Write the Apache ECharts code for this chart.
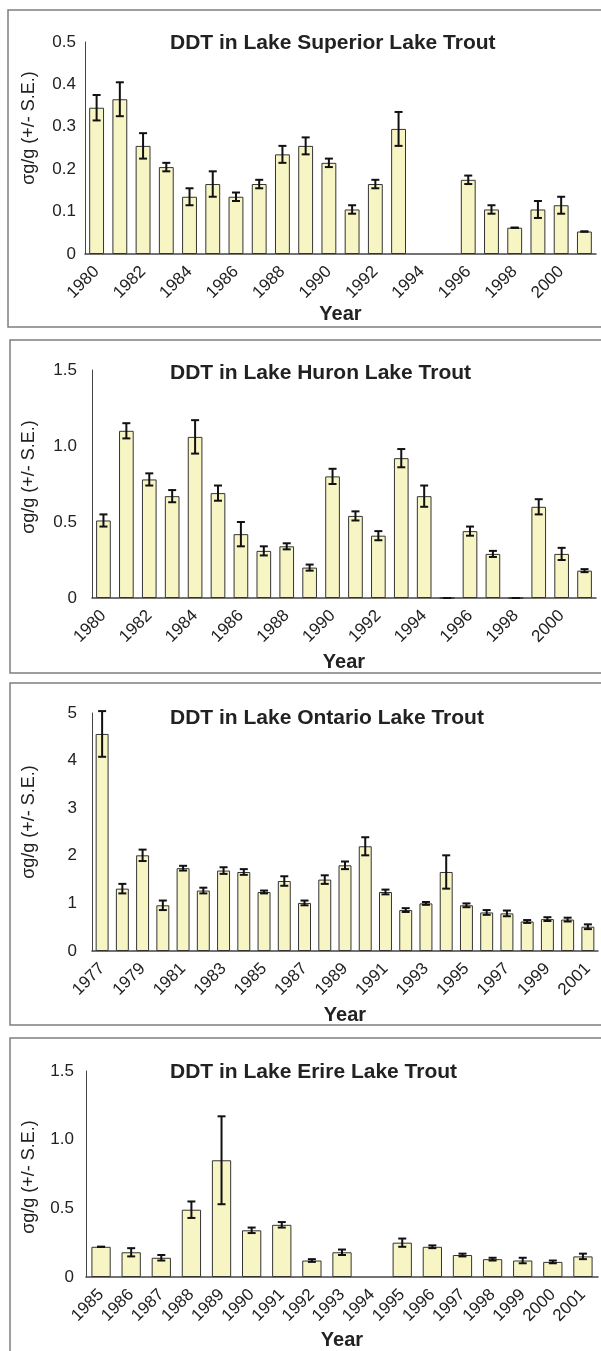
<!DOCTYPE html>
<html><head><meta charset="utf-8">
<script src="https://cdn.jsdelivr.net/npm/echarts@6/dist/echarts.min.js"></script>
<style>html,body{margin:0;padding:0;background:#fff}#c{width:601px;height:1351px}</style>
</head><body><div id="c"></div><script>
// ---- data ----
const supYears = ['1980','1981','1982','1983','1984','1985','1986','1987','1988','1989','1990','1991','1992','1993','1994','1995','1996','1997','1998','1999','2000','2001'];
const supVals  = [0.345,0.365,0.255,0.205,0.135,0.165,0.135,0.165,0.235,0.255,0.215,0.105,0.165,0.295,null,null,0.175,0.105,0.062,0.105,0.115,0.053];
const supSE    = [0.03,0.04,0.03,0.01,0.02,0.03,0.01,0.01,0.02,0.02,0.01,0.01,0.01,0.04,null,null,0.01,0.01,0,0.02,0.02,0];

const hurYears = ['1980','1981','1982','1983','1984','1985','1986','1987','1988','1989','1990','1991','1992','1993','1994','1995','1996','1997','1998','1999','2000','2001'];
const hurVals  = [0.51,1.10,0.78,0.67,1.06,0.69,0.42,0.31,0.34,0.20,0.80,0.54,0.41,0.92,0.67,0,0.44,0.29,0,0.60,0.29,0.18];
const hurSE    = [0.04,0.05,0.04,0.04,0.11,0.05,0.08,0.03,0.02,0.02,0.05,0.03,0.03,0.06,0.07,0,0.03,0.02,0,0.05,0.04,0.01];

const ontYears = ['1977','1978','1979','1980','1981','1982','1983','1984','1985','1986','1987','1988','1989','1990','1991','1992','1993','1994','1995','1996','1997','1998','1999','2000','2001'];
const ontVals  = [4.56,1.31,2.01,0.96,1.74,1.27,1.69,1.66,1.24,1.47,1.01,1.50,1.80,2.20,1.24,0.86,1.00,1.66,0.96,0.81,0.79,0.62,0.67,0.66,0.51];
const ontSE    = [0.48,0.10,0.12,0.10,0.05,0.06,0.07,0.06,0.03,0.10,0.05,0.09,0.08,0.19,0.05,0.04,0.03,0.35,0.04,0.05,0.06,0.03,0.04,0.04,0.05];

const erieYears = ['1985','1986','1987','1988','1989','1990','1991','1992','1993','1994','1995','1996','1997','1998','1999','2000','2001'];
const erieVals  = [0.22,0.18,0.14,0.49,0.85,0.34,0.38,0.12,0.18,null,0.25,0.22,0.16,0.13,0.12,0.11,0.15];
const erieSE    = [0,0.03,0.02,0.06,0.32,0.02,0.02,0.01,0.02,null,0.03,0.01,0.01,0.01,0.02,0.01,0.02];

const titles = ['DDT in Lake Superior Lake Trout','DDT in Lake Huron Lake Trout','DDT in Lake Ontario Lake Trout','DDT in Lake Erire Lake Trout'];
const yName = 'σg/g (+/- S.E.)';
const xName = 'Year';

// ---- layout ----
const panels = [
  {cats:supYears, vals:supVals, se:supSE, max:0.5, interval:0.1, dec:1, labInt:1,
   grid:{left:85, top:42, width:511, height:212}, box:{x:8, y:10, h:317}, titleY:43, nameY:128, yearGap:48, yMargin:9},
  {cats:hurYears, vals:hurVals, se:hurSE, max:1.5, interval:0.5, dec:1, labInt:1,
   grid:{left:92, top:370, width:504, height:228}, box:{x:10, y:340, h:333}, titleY:373, nameY:477, yearGap:54, yMargin:15},
  {cats:ontYears, vals:ontVals, se:ontSE, max:5, interval:1, dec:0, labInt:1,
   grid:{left:92, top:713, width:506, height:238}, box:{x:10, y:683, h:342}, titleY:718, nameY:822, yearGap:54, yMargin:15},
  {cats:erieYears, vals:erieVals, se:erieSE, max:1.5, interval:0.5, dec:1, labInt:0,
   grid:{left:86, top:1071, width:512, height:211}, box:{x:10, y:1038, h:400}, titleY:1072, nameY:1177, yearGap:53, yMargin:12}
];

const FONT = 'Liberation Sans, Arial, sans-serif';
const TXT = '#222';

function errRender(params, api) {
  const x = api.value(0), v = api.value(1), s = api.value(2);
  if (isNaN(v) || isNaN(s)) return;
  const t = api.coord([x, v + s]);
  const b = api.coord([x, v - s]);
  const hw = 4;
  const st = {stroke:'#111', lineWidth:2};
  return {type:'group', children:[
    {type:'line', shape:{x1:t[0], y1:t[1], x2:b[0], y2:b[1]}, style:st},
    {type:'line', shape:{x1:t[0]-hw, y1:t[1], x2:t[0]+hw, y2:t[1]}, style:st},
    {type:'line', shape:{x1:b[0]-hw, y1:b[1], x2:b[0]+hw, y2:b[1]}, style:st}
  ]};
}

const option = {
  animation:false,
  backgroundColor:'#fff',
  title: panels.map((p,i)=>({text:titles[i], left:170, top:p.titleY-11, padding:0,
    textStyle:{fontFamily:FONT, fontWeight:'bold', fontSize:21, lineHeight:22, color:TXT}})),
  grid: panels.map(p=>Object.assign({containLabel:false}, p.grid)),
  xAxis: panels.map((p,i)=>({type:'category', gridIndex:i, data:p.cats,
    name:xName, nameLocation:'middle', nameGap:p.yearGap,
    nameTextStyle:{fontFamily:FONT, fontWeight:'bold', fontSize:20, color:TXT},
    axisLine:{lineStyle:{color:'#444', width:1.5}}, axisTick:{show:false},
    axisLabel:{interval:p.labInt, rotate:45, margin:15, fontFamily:FONT, fontSize:17, color:TXT}})),
  yAxis: panels.map((p,i)=>({type:'value', gridIndex:i, min:0, max:p.max, interval:p.interval,
    axisLine:{show:true, lineStyle:{color:'#444', width:1}}, axisTick:{show:false}, splitLine:{show:false},
    axisLabel:{margin:p.yMargin, fontFamily:FONT, fontSize:17, color:TXT,
      formatter:v => v === 0 ? '0' : v.toFixed(p.dec)}})),
  series: [].concat(
    panels.map((p,i)=>({type:'bar', xAxisIndex:i, yAxisIndex:i, barWidth:'64%',
      data:p.vals.map(v => v === null ? '-' : v),
      itemStyle:{color:'#f8f5c4', borderColor:'#333', borderWidth:1}})),
    panels.map((p,i)=>({type:'custom', xAxisIndex:i, yAxisIndex:i, z:5, clip:false,
      renderItem:errRender, encode:{x:0, y:1},
      data:p.vals.map((v,j)=>[j, v, p.se[j]]).filter(d => d[1] !== null && d[2] !== null)}))
  ),
  graphic: [].concat(
    panels.map(p=>({type:'rect', silent:true, z:-10,
      shape:{x:p.box.x, y:p.box.y, width:640, height:p.box.h},
      style:{fill:'none', stroke:'#7f7f7f', lineWidth:1.5}})),
    panels.map(p=>({type:'text', silent:true, x:29, y:p.nameY, rotation:Math.PI/2,
      style:{text:yName, font:'18px ' + FONT, fill:TXT, textAlign:'center', textVerticalAlign:'middle'}}))
  )
};

const chart = echarts.init(document.getElementById('c'));
chart.setOption(option);
</script></body></html>
